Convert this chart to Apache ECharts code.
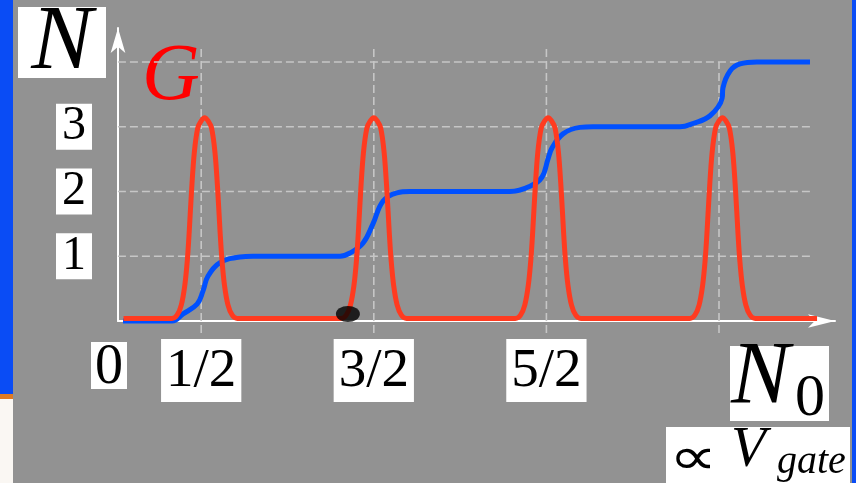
<!DOCTYPE html>
<html>
<head>
<meta charset="utf-8">
<script src="https://cdn.jsdelivr.net/npm/echarts@6/dist/echarts.min.js"></script>
<style>
    html, body { margin: 0; padding: 0; background: #929292; }
    #chart { width: 856px; height: 483px; }
</style>
</head>
<body>
<div id="chart"></div>
<script>
    // tick labels
    var xTickValues = [0.5, 1.5, 2.5];
    var xTickLabels = ['1/2', '3/2', '5/2'];
    var yTickValues = [1, 2, 3];
    var yTickLabels = ['1', '2', '3'];

    // dashed guide lines
    var hGridLevels = [1, 2, 3, 4];
    var vGridAt = [0.5, 1.5, 2.5, 3.5];
    var vGridTop = [4.2, 4.2, 4.2, 4.0];

    // N (blue staircase)
    var blueX = [0.047, 0.331, 0.395, 0.476, 0.510, 0.539, 0.609, 0.725, 0.80,
        1.23, 1.304, 1.362, 1.437, 1.495, 1.553, 1.634, 1.710, 1.78,
        2.22, 2.289, 2.405, 2.474, 2.509, 2.532, 2.596, 2.694, 2.77,
        3.20, 3.274, 3.349, 3.448, 3.518, 3.523, 3.564, 3.622, 3.720, 4.027];
    var blueN = [0, 0, 0.11, 0.26, 0.46, 0.69, 0.90, 0.99, 1.0,
        1.0, 1.0, 1.05, 1.20, 1.50, 1.85, 1.98, 2.0, 2.0,
        2.0, 2.0, 2.08, 2.22, 2.50, 2.67, 2.89, 2.99, 3.0,
        3.0, 3.0, 3.05, 3.17, 3.44, 3.60, 3.86, 3.97, 4.0, 4.0];

    // G (red peaks), one shape, same for each peak
    var peakCenters = [0.52, 1.50, 2.51, 3.52];
    var peakDx = [0, 0.02, 0.04, 0.06, 0.075, 0.09, 0.10, 0.115, 0.135, 0.16, 0.19];
    var peakG = [3.14, 3.09, 2.98, 2.60, 2.05, 1.35, 0.95, 0.55, 0.25, 0.09, 0.04];
    var redStart = [0.05, 0.04];
    var redEnd = [4.068, 0.04];

    // black dot on the axis
    var dot = [1.35, 0.108];

    var blueData = [];
    for (var i = 0; i < blueX.length; i++) {
        blueData.push([blueX[i], blueN[i]]);
    }

    var redData = [redStart];
    for (var p = 0; p < peakCenters.length; p++) {
        var c = peakCenters[p];
        for (var k = peakDx.length - 1; k >= 0; k--) {
            redData.push([c - peakDx[k], peakG[k]]);
        }
        for (var k = 1; k < peakDx.length; k++) {
            redData.push([c + peakDx[k], peakG[k]]);
        }
    }
    redData.push(redEnd);

    var gridStyle = { color: '#c6c6c6', width: 1.6, type: [8, 4] };
    var series = [];
    for (var i = 0; i < hGridLevels.length; i++) {
        series.push({
            type: 'line', clip: false, symbol: 'none', silent: true,
            lineStyle: gridStyle,
            data: [[-0.052, hGridLevels[i]], [4.044, hGridLevels[i]]]
        });
    }
    for (var i = 0; i < vGridAt.length; i++) {
        series.push({
            type: 'line', clip: false, symbol: 'none', silent: true,
            lineStyle: gridStyle,
            data: [[vGridAt[i], -0.185], [vGridAt[i], vGridTop[i]]]
        });
    }
    series.push({
        name: 'N', type: 'line', clip: false, symbol: 'none',
        smooth: 0.4,
        lineStyle: { color: '#0050ff', width: 5 },
        data: blueData
    });
    series.push({
        name: 'G', type: 'line', clip: false, symbol: 'none',
        smooth: 0.3,
        lineStyle: { color: '#ff3b20', width: 5 },
        data: redData
    });
    series.push({
        type: 'scatter', clip: false, symbol: 'circle', symbolSize: [24, 16], z: 5,
        itemStyle: { color: '#000' },
        data: [dot]
    });

    var serif = 'Liberation Serif';

    var chart = echarts.init(document.getElementById('chart'));
    chart.setOption({
        backgroundColor: '#929292',
        animation: false,
        grid: { left: 118, right: 21, top: 28, bottom: 162 },
        xAxis: {
            type: 'value', min: 0.018, max: 4.172,
            axisLine: { lineStyle: { color: '#fff', width: 2 }, symbol: ['none', 'arrow'], symbolSize: [10, 27] },
            axisTick: { show: false },
            splitLine: { show: false },
            axisLabel: {
                customValues: xTickValues,
                formatter: function (v) { return xTickLabels[xTickValues.indexOf(v)]; },
                fontFamily: serif, fontSize: 55, color: '#000',
                backgroundColor: '#fff', padding: [3, 5, 0, 5], lineHeight: 60,
                margin: 18
            }
        },
        yAxis: {
            type: 'value', min: 0, max: 4.525,
            axisLine: { lineStyle: { color: '#fff', width: 2 }, symbol: ['none', 'arrow'], symbolSize: [11, 25] },
            axisTick: { show: false },
            splitLine: { show: false },
            axisLabel: {
                customValues: yTickValues,
                formatter: function (v) { return yTickLabels[yTickValues.indexOf(v)]; },
                fontFamily: serif, fontSize: 48, color: '#000',
                backgroundColor: '#fff', padding: [0, 6], lineHeight: 46,
                margin: 26
            }
        },
        graphic: [
            { type: 'rect', left: 0, top: 0, shape: { width: 13, height: 394 }, style: { fill: '#0a4cf5' } },
            { type: 'rect', left: 0, top: 394, shape: { width: 13, height: 5 }, style: { fill: '#e07a22' } },
            { type: 'rect', left: 0, top: 399, shape: { width: 13, height: 84 }, style: { fill: '#faf7f3' } },
            { type: 'rect', left: 852, top: 0, shape: { width: 4, height: 483 }, style: { fill: '#0a4cf5' } },
            // N label
            { type: 'rect', left: 18, top: 7, shape: { width: 88, height: 71 }, style: { fill: '#fff' } },
            { type: 'text', x: 62, y: 44, style: { text: 'N', font: 'italic 92px "Liberation Serif"', fill: '#000', align: 'center', verticalAlign: 'middle' } },
            // G label
            { type: 'text', x: 171, y: 78, style: { text: 'G', font: 'italic 80px "Liberation Serif"', fill: '#ff0000', align: 'center', verticalAlign: 'middle' } },
            // 0 at origin
            { type: 'rect', left: 91, top: 342, shape: { width: 36, height: 47 }, style: { fill: '#fff' } },
            { type: 'text', x: 109, y: 368, style: { text: '0', font: '56px "Liberation Serif"', fill: '#000', align: 'center', verticalAlign: 'middle' } },
            // N_0
            { type: 'rect', left: 730, top: 346, shape: { width: 99, height: 75 }, style: { fill: '#fff' } },
            { type: 'text', x: 731, y: 379, style: { text: 'N', font: 'italic 88px "Liberation Serif"', fill: '#000', align: 'left', verticalAlign: 'middle' } },
            { type: 'text', x: 795, y: 399, style: { text: '0', font: '60px "Liberation Serif"', fill: '#000', align: 'left', verticalAlign: 'middle' } },
            // proportional to V_gate
            { type: 'rect', left: 666, top: 427, shape: { width: 184, height: 56 }, style: { fill: '#fff' } },
            { type: 'text', x: 669, y: 459, scaleX: 1.3, style: { text: '\u221D', font: '52px "Noto Sans"', fill: '#000', align: 'left', verticalAlign: 'middle' } },
            { type: 'text', x: 731, y: 451, style: { text: 'V', font: 'italic 57px "Liberation Serif"', fill: '#000', align: 'left', verticalAlign: 'middle' } },
            { type: 'text', x: 777, y: 462, style: { text: 'gate', font: 'italic 40px "Liberation Serif"', fill: '#000', align: 'left', verticalAlign: 'middle' } }
        ],
        series: series
    });
</script>
</body>
</html>
